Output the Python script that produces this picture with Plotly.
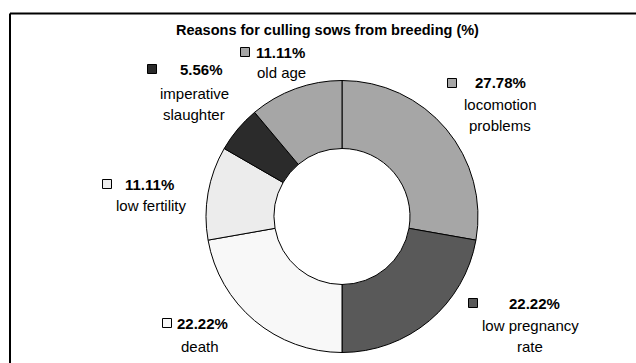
import plotly.graph_objects as go

# ---- data ----
categories = ["locomotion problems", "low pregnancy rate", "death",
              "low fertility", "imperative slaughter", "old age"]
shares = [27.78, 22.22, 22.22, 11.11, 5.56, 11.11]
colors = ["#a6a6a6", "#595959", "#f8f8f8", "#ececec", "#2b2b2b", "#a6a6a6"]
title_text = "Reasons for culling sows from breeding (%)"

W, H = 636, 363
FONT = "Liberation Sans, Arial, sans-serif"


def px(x):
    return x / W


def py(y):
    return 1 - y / H


# label layout (pixel positions): marker centre, percent left x / y,
# name centre x, first name line y, words on first line
label_pos = [
    dict(mx=452, my=83, tx=473, ty=83, nx=500, ny=105, split=1),
    dict(mx=473, my=303, tx=507, ty=303, nx=530, ny=325, split=2),
    dict(mx=167, my=323, tx=175, ty=323, nx=200, ny=346, split=None),
    dict(mx=107, my=184, tx=123, ty=184, nx=151, ny=206, split=None),
    dict(mx=152, my=69, tx=178, ty=69, nx=194, ny=93, split=1),
    dict(mx=245, my=52, tx=254, ty=52, nx=281, ny=72, split=None),
]
LINE_GAP = 21

# donut geometry (pixels)
cx, cy, r = 342, 216.5, 136

fig = go.Figure(go.Pie(
    labels=categories,
    values=shares,
    sort=False,
    direction="clockwise",
    rotation=0,
    hole=0.5,
    marker=dict(colors=colors, line=dict(color="#000000", width=1)),
    textinfo="none",
    showlegend=False,
    domain=dict(x=[px(cx - r), px(cx + r)], y=[py(cy + r), py(cy - r)]),
))

annotations = [dict(
    text="<b>" + title_text + "</b>", x=px(327), y=py(30),
    xref="paper", yref="paper", xanchor="center", yanchor="middle",
    showarrow=False, font=dict(family=FONT, size=14.5, color="#000000"))]
frame = dict(color="#000000", width=2)
shapes = [
    dict(type="line", xref="paper", yref="paper",
         x0=px(10), x1=px(636), y0=py(13.5), y1=py(13.5), line=frame),
    dict(type="line", xref="paper", yref="paper",
         x0=px(10), x1=px(10), y0=py(13.5), y1=py(363), line=frame),
]

for cat, val, col, p in zip(categories, shares, colors, label_pos):
    s = 4.5
    shapes.append(dict(type="rect", xref="paper", yref="paper",
                       x0=px(p["mx"] - s), x1=px(p["mx"] + s),
                       y0=py(p["my"] + s), y1=py(p["my"] - s),
                       fillcolor=col, line=dict(color="#000000", width=1)))
    annotations.append(dict(
        text="<b>%.2f%%</b>" % val, x=px(p["tx"]), y=py(p["ty"]),
        xref="paper", yref="paper", xanchor="left", yanchor="middle",
        showarrow=False, font=dict(family=FONT, size=15, color="#000000")))
    words = cat.split(" ")
    if p["split"]:
        lines = [" ".join(words[:p["split"]]), " ".join(words[p["split"]:])]
    else:
        lines = [cat]
    for i, ln in enumerate(lines):
        annotations.append(dict(
            text=ln, x=px(p["nx"]), y=py(p["ny"] + i * LINE_GAP),
            xref="paper", yref="paper", xanchor="center", yanchor="middle",
            showarrow=False, font=dict(family=FONT, size=15, color="#000000")))

fig.update_layout(
    width=W, height=H,
    margin=dict(l=0, r=0, t=0, b=0),
    paper_bgcolor="#ffffff", plot_bgcolor="#ffffff",
    annotations=annotations, shapes=shapes,
)

fig.write_html("out.html", config={"displayModeBar": False})
